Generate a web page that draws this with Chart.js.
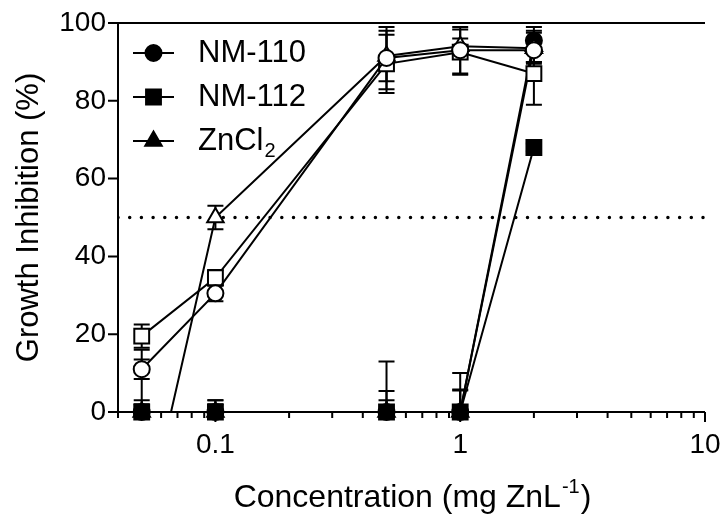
<!DOCTYPE html>
<html>
<head>
<meta charset="utf-8">
<script src="https://cdn.jsdelivr.net/npm/chart.js@4/dist/chart.umd.min.js"></script>
<style>
  html, body { margin: 0; padding: 0; background: #fff; }
  #wrap { width: 723px; height: 523px; }
</style>
</head>
<body>
<div id="wrap"><canvas id="growthChart" width="723" height="523"></canvas></div>
<script>
const concentrations = [0.05, 0.1, 0.5, 1, 2];

// filled symbols (legend series)
const nm110 = [0, 0, 0, 0, 95.5];
const nm112 = [0, 0, 0, 0, 68];
const zncl2 = [0, 0, 0, 0, 94];
const nm110Err = [16, 3, 13, 10, 3.5];
const nm112Err = [3, 3, 5.4, 5.8, 1];
const zncl2Err = [2, 2, 3, 5.5, 4];

// open symbols
const nm110Open = [11, 30.5, 91, 93, 93];
const nm112Open = [19.5, 34.5, 89.5, 92.5, 87];
const zncl2Open = [-33, 50, 91.5, 94, 93.5];
const nm110OpenErr = [2.5, 2, 8, 6, 3];
const nm112OpenErr = [3, 2, 7.5, 5.8, 8];
const zncl2OpenErr = [null, 3, 6.5, 2, 4];

const xTickValues = [0.1, 1, 10];
const xTickLabels = ['0.1', '1', '10'];
const xMinorTicks = [0.04, 0.05, 0.06, 0.07, 0.08, 0.09, 0.2, 0.3, 0.4, 0.5, 0.6, 0.7, 0.8, 0.9,
                     2, 3, 4, 5, 6, 7, 8, 9];
const yTickValues = [0, 20, 40, 60, 80, 100];
const thresholdLine = 50;

const legendLabels = ['NM-110', 'NM-112', 'ZnCl'];
const legendSubs = ['', '', '2'];
const legendStyles = ['circle', 'rect', 'triangle'];

const FONT = "'Liberation Sans', Arial, sans-serif";

function pts(arr) {
  return concentrations.map((c, i) => ({x: c, y: arr[i]}));
}

function series(arr, err, style, filled, radius) {
  return {
    data: pts(arr),
    errors: err,
    borderColor: '#000',
    borderWidth: 2,
    backgroundColor: filled ? '#000' : '#fff',
    pointStyle: style,
    pointRadius: radius,
    pointBorderWidth: 2,
    pointBorderColor: '#000',
    pointBackgroundColor: filled ? '#000' : '#fff',
    tension: 0,
    clip: false
  };
}

function drawMarker(ctx, style, x, y, r, filled) {
  ctx.beginPath();
  if (style === 'circle') {
    ctx.arc(x, y, r, 0, Math.PI * 2);
  } else if (style === 'rect') {
    const s = Math.SQRT1_2 * r;
    ctx.rect(x - s, y - s, 2 * s, 2 * s);
  } else {
    ctx.moveTo(x, y - r);
    ctx.lineTo(x + r * Math.sin(2 * Math.PI / 3), y - r * Math.cos(2 * Math.PI / 3));
    ctx.lineTo(x + r * Math.sin(4 * Math.PI / 3), y - r * Math.cos(4 * Math.PI / 3));
    ctx.closePath();
  }
  ctx.fillStyle = filled ? '#000' : '#fff';
  ctx.fill();
  ctx.lineWidth = 2;
  ctx.strokeStyle = '#000';
  ctx.stroke();
}

const errorBars = {
  id: 'errorBars',
  beforeDatasetsDraw(chart) {
    const {ctx, chartArea, scales: {x, y}} = chart;
    ctx.save();
    ctx.beginPath();
    ctx.rect(chartArea.left, chartArea.top - 10, chartArea.right - chartArea.left, chartArea.bottom - chartArea.top + 10);
    ctx.clip();
    ctx.strokeStyle = '#000';
    ctx.lineWidth = 2;
    chart.data.datasets.forEach(ds => {
      if (!ds.errors) return;
      ds.data.forEach((p, i) => {
        const e = ds.errors[i];
        if (e == null || p.y < 0) return;
        const px = x.getPixelForValue(p.x);
        const hi = y.getPixelForValue(p.y + e);
        const lo = y.getPixelForValue(p.y - e);
        ctx.beginPath();
        ctx.moveTo(px, lo);
        ctx.lineTo(px, hi);
        ctx.moveTo(px - 8, hi);
        ctx.lineTo(px + 8, hi);
        if (p.y - e >= 0) {
          ctx.moveTo(px - 8, lo);
          ctx.lineTo(px + 8, lo);
        }
        ctx.stroke();
      });
    });
    ctx.restore();
  }
};

const axesAndLegend = {
  id: 'axesAndLegend',
  afterDraw(chart) {
    const {ctx, chartArea, scales: {x, y}} = chart;
    const {left, right, top, bottom} = chartArea;
    ctx.save();
    ctx.strokeStyle = '#000';
    ctx.lineWidth = 2;
    ctx.lineCap = 'butt';
    ctx.beginPath();
    // axes
    ctx.moveTo(left, y.getPixelForValue(100) - 1);
    ctx.lineTo(left, bottom + 1);
    ctx.moveTo(left - 1, bottom);
    ctx.lineTo(right, bottom);
    // top line
    ctx.moveTo(left - 1, y.getPixelForValue(100));
    ctx.lineTo(right, y.getPixelForValue(100));
    // y ticks
    yTickValues.forEach(v => {
      const py = y.getPixelForValue(v);
      ctx.moveTo(left - 10, py);
      ctx.lineTo(left, py);
    });
    // x ticks
    xMinorTicks.forEach(v => {
      const px = x.getPixelForValue(v);
      ctx.moveTo(px, bottom);
      ctx.lineTo(px, bottom + 6);
    });
    xTickValues.forEach(v => {
      const px = x.getPixelForValue(v);
      ctx.moveTo(px, bottom);
      ctx.lineTo(px, bottom + 10);
    });
    ctx.stroke();

    // x axis title with superscript
    const main = 'Concentration (mg ZnL';
    const sup = '-1';
    const end = ')';
    ctx.fillStyle = '#000';
    ctx.textBaseline = 'alphabetic';
    ctx.font = '32px ' + FONT;
    const w1 = ctx.measureText(main).width;
    const w3 = ctx.measureText(end).width;
    ctx.font = '20px ' + FONT;
    const w2 = ctx.measureText(sup).width;
    let tx = (left + right) / 2 - (w1 + w2 + w3) / 2;
    const baseY = 507;
    ctx.font = '32px ' + FONT;
    ctx.textAlign = 'left';
    ctx.fillText(main, tx, baseY);
    ctx.font = '20px ' + FONT;
    ctx.fillText(sup, tx + w1 + 1, baseY - 14);
    ctx.font = '32px ' + FONT;
    ctx.fillText(end, tx + w1 + w2 + 2, baseY);

    // legend
    legendLabels.forEach((label, i) => {
      const ly = 53 + i * 44;
      ctx.beginPath();
      ctx.moveTo(133, ly);
      ctx.lineTo(174, ly);
      ctx.lineWidth = 2;
      ctx.strokeStyle = '#000';
      ctx.stroke();
      const r = legendStyles[i] === 'rect' ? 10.5 : (legendStyles[i] === 'triangle' ? 9.5 : 8);
      drawMarker(ctx, legendStyles[i], 153.5, ly, r, true);
      ctx.fillStyle = '#000';
      ctx.font = '31px ' + FONT;
      ctx.textBaseline = 'middle';
      ctx.fillText(label, 198, ly);
      if (legendSubs[i]) {
        const lw = ctx.measureText(label).width;
        ctx.font = '20px ' + FONT;
        ctx.fillText(legendSubs[i], 198 + lw + 1, ly + 10);
      }
    });
    ctx.restore();
  }
};

const openTri = series(zncl2Open, zncl2OpenErr, 'triangle', false, 9.5);
openTri.clip = {left: 20, top: 20, right: 20, bottom: 0};

const chart = new Chart(document.getElementById('growthChart').getContext('2d'), {
  type: 'line',
  data: {
    datasets: [
      series(nm110Open, nm110OpenErr, 'circle', false, 8),
      series(nm112Open, nm112OpenErr, 'rect', false, 10.5),
      openTri,
      series(nm110, nm110Err, 'circle', true, 8),
      series(zncl2, zncl2Err, 'triangle', true, 9.5),
      series(nm112, nm112Err, 'rect', true, 10.5),
      {
        data: [{x: 0.04, y: thresholdLine}, {x: 10, y: thresholdLine}],
        borderColor: '#000',
        borderWidth: 3.5,
        borderDash: [0, 11.7],
        borderCapStyle: 'round',
        pointRadius: 0,
        fill: false
      }
    ]
  },
  options: {
    responsive: false,
    animation: false,
    devicePixelRatio: 1,
    layout: {padding: {left: 0, top: 23, right: 18, bottom: 0}},
    plugins: {legend: {display: false}, tooltip: {enabled: false}},
    scales: {
      x: {
        type: 'logarithmic',
        min: 0.04,
        max: 10,
        afterBuildTicks: s => { s.ticks = xTickValues.map(v => ({value: v})); },
        afterFit: s => { s.height = 111; s.paddingLeft = 0; s.paddingRight = 0; },
        grid: {display: false, drawTicks: false},
        border: {display: false},
        ticks: {
          autoSkip: false,
          maxRotation: 0,
          padding: 16,
          color: '#000',
          font: {family: FONT, size: 28},
          callback: (v) => xTickLabels[xTickValues.indexOf(v)]
        }
      },
      y: {
        min: 0,
        max: 100,
        afterBuildTicks: s => { s.ticks = yTickValues.map(v => ({value: v})); },
        afterFit: s => { s.width = 118; s.paddingTop = 0; s.paddingBottom = 0; },
        grid: {display: false, drawTicks: false},
        border: {display: false},
        ticks: {
          padding: 12,
          color: '#000',
          font: {family: FONT, size: 28}
        },
        title: {
          display: true,
          text: 'Growth Inhibition (%)',
          color: '#000',
          font: {family: FONT, size: 31},
          padding: {top: 11, bottom: 0}
        }
      }
    }
  },
  plugins: [errorBars, axesAndLegend]
});
</script>
</body>
</html>
